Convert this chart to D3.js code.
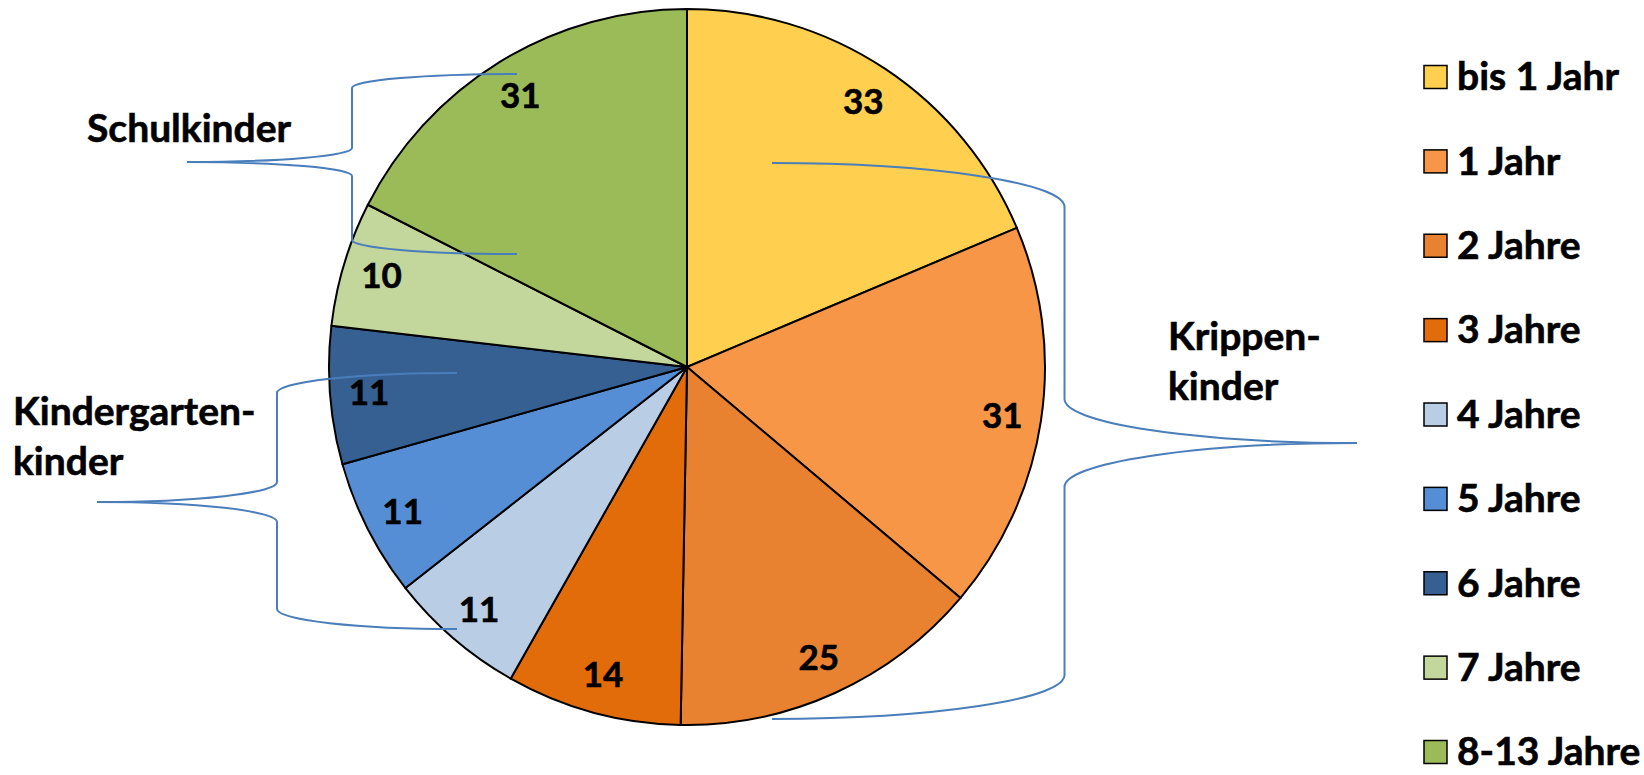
<!DOCTYPE html>
<html>
<head>
<meta charset="utf-8">
<script src="https://cdn.jsdelivr.net/npm/d3@7"></script>
<style>
  body { margin: 0; background: #fff; }
  text { font-family: Lato, "Open Sans", sans-serif; font-weight: bold; stroke: black; stroke-width: 0.6px; }
</style>
</head>
<body>
<svg id="chart" width="1644" height="775"></svg>
<script>
const categories = ["bis 1 Jahr", "1 Jahr", "2 Jahre", "3 Jahre", "4 Jahre", "5 Jahre", "6 Jahre", "7 Jahre", "8-13 Jahre"]
const values = [33, 31, 25, 14, 11, 11, 11, 10, 31]
const colors = ["#FFD04F", "#F79646", "#E98230", "#E36C0A", "#B9CDE5", "#558ED5", "#376092", "#C3D69B", "#9BBB59"]

// group braces: label lines, arm x, tip x, top y, tip y, bottom y, curve height
const groups = [
  { lines: ["Schulkinder"], arm: 517, tip: 187, y0: 74, ym: 162, y1: 254, dy: 14, tx: 87, ty: 142 },
  { lines: ["Kindergarten-", "kinder"], arm: 457, tip: 97, y0: 373, ym: 502, y1: 629, dy: 20, tx: 13, ty: 425 },
  { lines: ["Krippen-", "kinder"], arm: 772, tip: 1357, y0: 163, ym: 443, y1: 719, dy: 44, tx: 1168, ty: 350 }
]

const svg = d3.select("#chart")
const cx = 687, cy = 367, radius = 358
const labelRadius = 319
const numFont = "35px"
const txtFont = "39px"

const pie = d3.pie().sort(null).value(d => d)
const arcs = pie(values)
const arc = d3.arc().innerRadius(0).outerRadius(radius)
const labelArc = d3.arc().innerRadius(labelRadius).outerRadius(labelRadius)

const g = svg.append("g").attr("transform", `translate(${cx},${cy})`)

g.selectAll("path")
  .data(arcs)
  .enter()
  .append("path")
  .attr("d", arc)
  .attr("fill", (d, i) => colors[i])
  .attr("stroke", "black")
  .attr("stroke-width", 2)
  .attr("stroke-linejoin", "round")

g.selectAll("text.val")
  .data(arcs)
  .enter()
  .append("text")
  .attr("class", "val")
  .attr("x", d => labelArc.centroid(d)[0])
  .attr("y", d => labelArc.centroid(d)[1])
  .attr("dy", "0.36em")
  .attr("text-anchor", "middle")
  .style("font-size", numFont)
  .style("fill", "black")
  .text(d => d.data)

// brace shapes like the office ones
function bracePath(b) {
  const hc = (b.arm + b.tip) / 2
  const rx = Math.abs(b.arm - b.tip) / 2
  const f = b.tip < b.arm ? 0 : 1
  return `M${b.arm},${b.y0} A${rx},${b.dy} 0 0 ${f} ${hc},${b.y0 + b.dy}` +
    ` L${hc},${b.ym - b.dy} A${rx},${b.dy} 0 0 ${1 - f} ${b.tip},${b.ym}` +
    ` A${rx},${b.dy} 0 0 ${1 - f} ${hc},${b.ym + b.dy}` +
    ` L${hc},${b.y1 - b.dy} A${rx},${b.dy} 0 0 ${f} ${b.arm},${b.y1}`
}

groups.forEach(b => {
  svg.append("path")
    .attr("d", bracePath(b))
    .attr("fill", "none")
    .attr("stroke", "#4A7EBB")
    .attr("stroke-width", 2)

  svg.append("text")
    .attr("x", b.tx)
    .attr("y", b.ty)
    .style("font-size", txtFont)
    .style("fill", "black")
    .selectAll("tspan")
    .data(b.lines)
    .enter()
    .append("tspan")
    .attr("x", b.tx)
    .attr("dy", (d, i) => i == 0 ? 0 : 50)
    .text(d => d)
})

// legend
const legY = d3.scalePoint().domain(categories).range([77, 752])
const leg = svg.append("g")
categories.forEach((c, i) => {
  leg.append("rect")
    .attr("x", 1424)
    .attr("y", legY(c) - 11.5)
    .attr("width", 23)
    .attr("height", 23)
    .attr("fill", colors[i])
    .attr("stroke", "black")
    .attr("stroke-width", 1.5)
  leg.append("text")
    .attr("x", 1457)
    .attr("y", legY(c))
    .attr("dy", "0.34em")
    .style("font-size", txtFont)
    .style("fill", "black")
    .text(c)
})
</script>
</body>
</html>
